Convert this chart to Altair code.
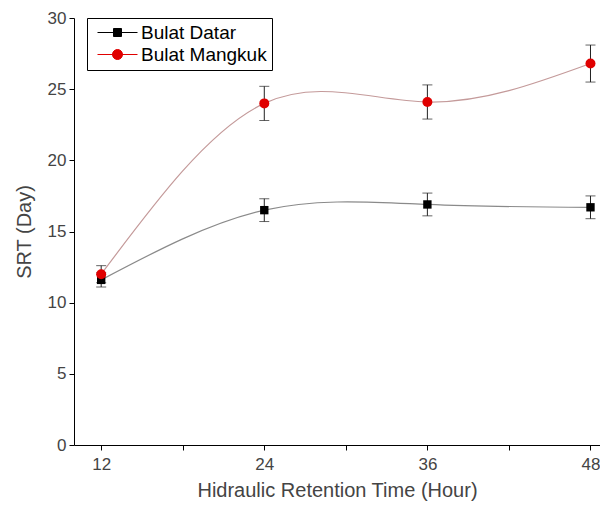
import altair as alt
import pandas as pd

hrt = [12, 24, 36, 48]
datar = [11.6, 16.5, 16.9, 16.7]
datar_err = [0.5, 0.8, 0.8, 0.8]
mangkuk = [12.0, 24.0, 24.1, 26.8]
mangkuk_err = [0.6, 1.2, 1.2, 1.3]
series_names = ["Bulat Datar", "Bulat Mangkuk"]
series_colors = ["#000000", "#e00000"]
line_colors = ["#8a8a8a", "#c49a9a"]

rows = []
for s, vals, errs in [(series_names[0], datar, datar_err), (series_names[1], mangkuk, mangkuk_err)]:
    for h, v, e in zip(hrt, vals, errs):
        rows.append({"series": s, "hrt": h, "srt": v, "lo": v - e, "hi": v + e})
df = pd.DataFrame(rows)

xscale = alt.Scale(domain=[10, 48.7], nice=False, zero=False)
yscale = alt.Scale(domain=[0, 30], nice=False)

xaxis = alt.Axis(
    title="Hidraulic Retention Time (Hour)",
    values=[12, 18, 24, 30, 36, 42, 48],
    labelExpr="datum.value % 12 == 0 ? datum.label : ''",
    grid=False, tickSize=5, tickColor="#000", domainColor="#000",
    labelFont="Liberation Sans", labelFontSize=17, labelColor="#444",
    titleFont="Liberation Sans", titleFontSize=20, titleColor="#444",
    titleFontWeight="normal", labelPadding=6, titlePadding=8,
)
yaxis = alt.Axis(
    title="SRT (Day)",
    values=[v * 2.5 for v in range(13)],
    labelExpr="datum.value % 5 == 0 ? datum.label : ''",
    grid=False, tickSize=5, tickColor="#000", domainColor="#000",
    labelFont="Liberation Sans", labelFontSize=17, labelColor="#444",
    titleFont="Liberation Sans", titleFontSize=20, titleColor="#444",
    titleFontWeight="normal", labelPadding=3, titlePadding=13,
)

base = alt.Chart(df)

lines = base.mark_line(interpolate="natural", strokeWidth=1.2).encode(
    x=alt.X("hrt:Q", scale=xscale, axis=xaxis),
    y=alt.Y("srt:Q", scale=yscale, axis=yaxis),
    color=alt.Color("series:N", scale=alt.Scale(domain=series_names, range=line_colors), legend=None),
)

errs = base.mark_errorbar(ticks=alt.MarkConfig(size=10), color="#222", thickness=1).encode(
    x=alt.X("hrt:Q", scale=xscale),
    y=alt.Y("lo:Q", scale=yscale, title="SRT (Day)"),
    y2="hi:Q",
)

sq = base.transform_filter(alt.datum.series == series_names[0]).mark_point(
    shape="square", filled=True, size=70, color="#000", opacity=1
).encode(x=alt.X("hrt:Q", scale=xscale), y=alt.Y("srt:Q", scale=yscale))

ci = base.transform_filter(alt.datum.series == series_names[1]).mark_point(
    shape="circle", filled=True, size=100, color="#e00000", opacity=1
).encode(x=alt.X("hrt:Q", scale=xscale), y=alt.Y("srt:Q", scale=yscale))

sym_square = "M-1,0H9M3,-1H5V1H3Z"
sym_circle = "M-1,0H9M2.75,0A1.25,1.25,0,1,1,5.25,0A1.25,1.25,0,1,1,2.75,0Z"

legend = alt.Legend(
    title=None, orient="none", legendX=13, legendY=0,
    strokeColor="#000",
    symbolSize=64, symbolStrokeWidth=1, symbolOpacity=1,
    labelOffset=30, labelFont="Liberation Sans", labelFontSize=19,
    labelColor="#000", fillColor="#fff",
)

leg = base.mark_point(opacity=0, filled=True).encode(
    x=alt.X("hrt:Q", scale=xscale),
    y=alt.Y("srt:Q", scale=yscale),
    fill=alt.Fill("series:N", scale=alt.Scale(domain=series_names, range=series_colors), legend=legend),
    stroke=alt.Stroke("series:N", scale=alt.Scale(domain=series_names, range=series_colors), legend=legend),
    shape=alt.Shape("series:N", scale=alt.Scale(domain=series_names, range=[sym_square, sym_circle]), legend=legend),
)

chart = alt.layer(lines, errs, sq, ci, leg).resolve_scale(color="independent").properties(
    width=526, height=427,
    autosize=alt.AutoSizeParams(type="none"),
    padding={"left": 66, "top": 10, "right": 0, "bottom": 57},
).configure_view(stroke=None).configure_legend(
    padding=5, rowPadding=2, strokeWidth=1
)

chart.save("out.html", embed_options={"renderer": "svg", "actions": False})
